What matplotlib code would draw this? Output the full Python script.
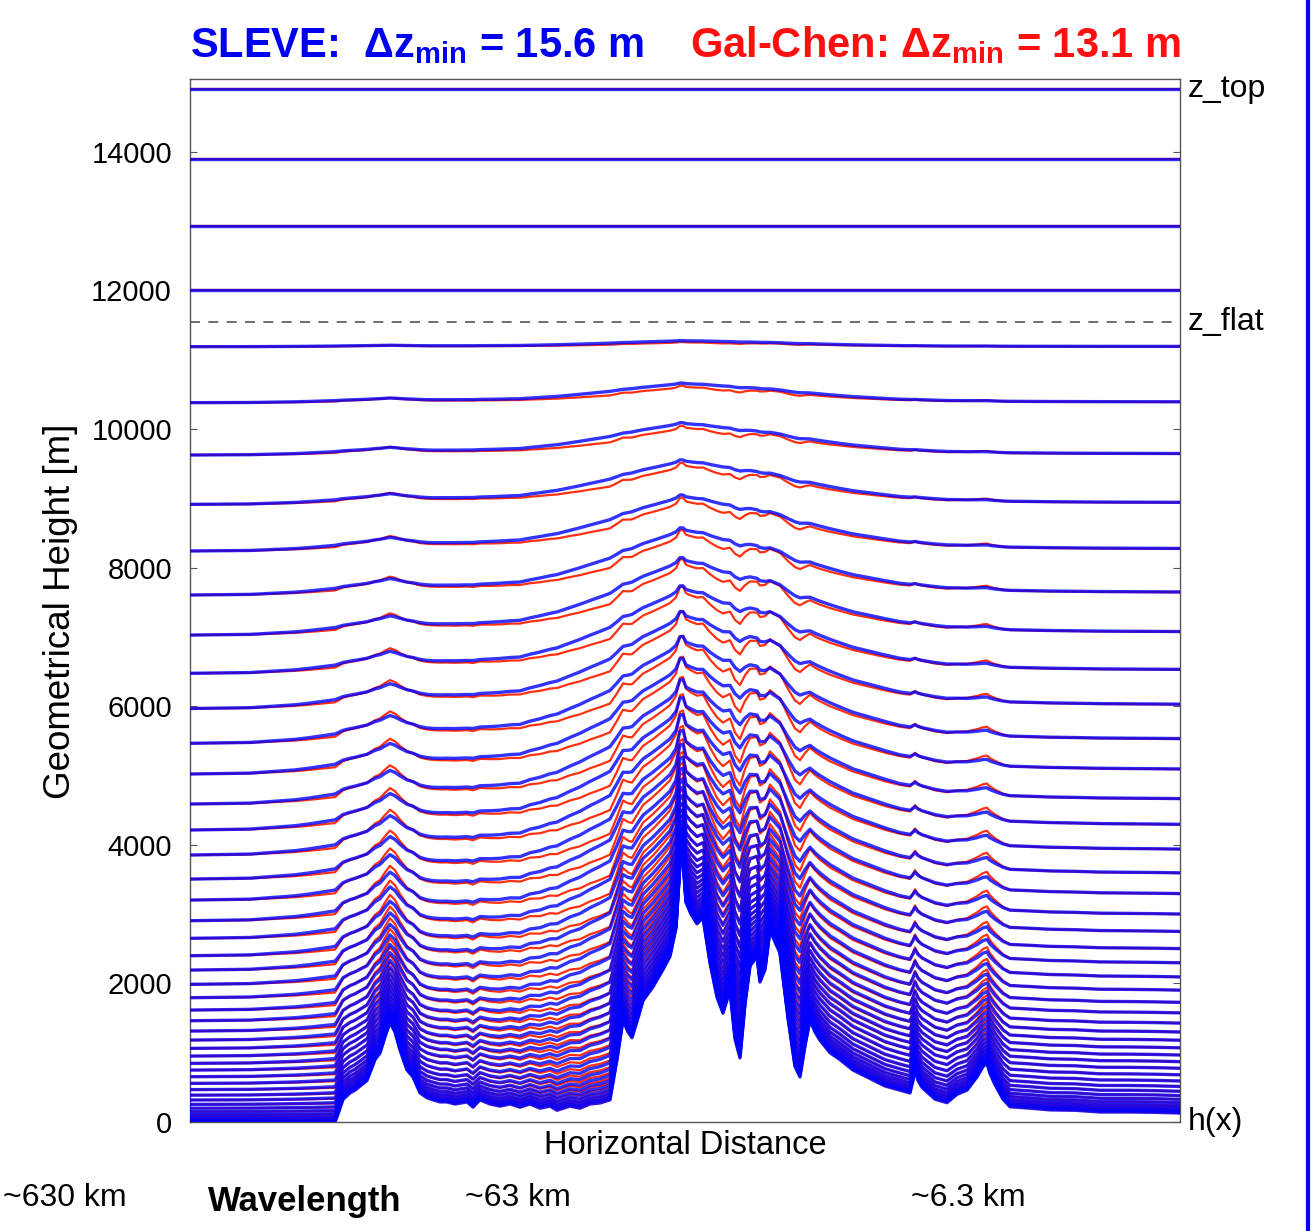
import matplotlib
matplotlib.use("Agg")
import matplotlib.pyplot as plt
import numpy as np
from matplotlib.lines import Line2D

plt.rcParams['font.family'] = ['Liberation Sans', 'DejaVu Sans']
plt.rcParams['mathtext.fontset'] = 'custom'
plt.rcParams['mathtext.rm'] = 'Liberation Sans'
plt.rcParams['mathtext.bf'] = 'Liberation Sans:bold'
plt.rcParams['mathtext.it'] = 'Liberation Sans:italic'

# terrain h(x) (x in grid units, h in m)
x_pts = [0, 15, 30, 45, 60, 75, 90, 105, 120, 135, 145, 147, 153, 160, 165,
         177, 185, 190, 195, 200, 205, 210, 217, 223, 230, 237, 243, 250, 257,
         265, 277, 283, 290, 300, 310, 320, 330, 340, 350, 360, 367, 380, 390,
         400, 410, 420, 427, 433, 438, 442, 448, 453, 463, 473, 480, 486, 490,
         493, 496, 501, 507, 513, 520, 527, 533, 540, 545, 550, 555, 560, 567,
         570, 575, 580, 585, 590, 598, 605, 610, 615, 620, 625, 630, 640, 650,
         663, 677, 695, 710, 720, 723, 725, 728, 732, 745, 757, 767, 777, 787,
         793, 797, 800, 805, 813, 820, 840, 860, 885, 910, 940, 965, 990]
h_pts = [0, 0, 0, 0, 0, 0, 0, 0, 0, 0, 0, 72, 325, 420, 460,
         600, 900, 995, 1230, 1435, 1300, 1040, 750, 650, 420, 350, 320, 290, 290,
         260, 290, 215, 320, 260, 230, 260, 215, 260, 200, 230, 170, 230, 200,
         260, 275, 320, 900, 1470, 1300, 1215, 1500, 1750, 1950, 2200, 2390, 2800, 3730,
         3800, 3170, 3000, 2860, 2950, 2300, 1800, 1570, 1900, 1200, 925, 1700, 2250, 2390,
         2020, 2200, 2770, 2600, 2440, 1500, 800, 650, 1100, 1470, 1300, 1180, 1000, 900,
         750, 650, 520, 460, 420, 600, 750, 600, 500, 330, 280, 400, 460, 650,
         800, 850, 700, 540, 330, 220, 200, 175, 170, 145, 145, 140, 130]

# large-scale part of the terrain, read from the bulge of the upper levels
xl_pts = [0, 60, 110, 150, 200, 240, 280, 330, 370, 410, 450, 490, 530, 570,
          610, 660, 710, 760, 810, 870, 930, 990]
hl_pts = [0, 30, 150, 350, 580, 430, 450, 600, 1000, 1600, 2200, 2700, 2500,
          2000, 1500, 900, 500, 300, 200, 160, 140, 130]

# model levels over flat ground [m]
zeta_levels = [0, 20, 44, 74, 110, 152, 200, 255, 318, 388, 468, 558, 654, 750,
               847, 952, 1063, 1183, 1313, 1462, 1616, 1794, 1987, 2193, 2400,
               2651, 2905, 3203, 3506, 3853, 4214, 4589, 5022, 5465, 5967, 6475,
               7027, 7605, 8240, 8913, 9625, 10380, 11188, 12006, 12929, 13896,
               14906]

yticks = [0, 2000, 4000, 6000, 8000, 10000, 12000, 14000]
z_flat = 11550.0
z_top = 15050.0

x = np.array(x_pts, float)
h = np.array(h_pts, float)
h1 = np.interp(x, xl_pts, hl_pts)
h2 = h - h1


def decay(zeta, s):
    d = max(z_flat - zeta, 0.0)
    return np.sinh(d / s) / np.sinh(z_flat / s)


def gal_chen(zeta):
    lin = max(z_flat - zeta, 0.0) / z_flat
    return zeta + h1 * lin ** 1.1 + h2 * decay(zeta, 3500.0)


def sleve(zeta):
    lin = max(z_flat - zeta, 0.0) / z_flat
    return zeta + h1 * lin + h2 * decay(zeta, 2500.0)


fig = plt.figure(figsize=(13.13, 12.31), dpi=100)
ax = fig.add_axes([0.1447, 0.0885, 0.754, 0.8473])

for zeta in zeta_levels:
    ax.plot(x, gal_chen(zeta), color='#ff3010', lw=1.6, zorder=2)
for zeta in zeta_levels:
    ax.plot(x, sleve(zeta), color='#0000ff', lw=2.4, alpha=0.8, zorder=3)

ax.axhline(z_flat, color='#555555', lw=1.2, ls=(0, (6, 5)), zorder=1)

ax.set_xlim(0, 990)
ax.set_ylim(0, z_top)
ax.set_yticks(yticks)
ax.set_xticks([])
ax.tick_params(axis='y', direction='in', length=5, width=0.8, color='#555555',
               labelsize=21, right=True, pad=13)
for sp in ax.spines.values():
    sp.set_color('#555555')
    sp.set_linewidth(1.0)
ax.set_ylabel('Geometrical Height [m]', fontsize=26.5)
ax.yaxis.set_label_coords(-0.113, 0.49)
ax.set_xlabel('Horizontal Distance', fontsize=23.5, labelpad=6)

# labels on the right side
ax.text(1.008, zeta_levels[-1], 'z_top', transform=ax.get_yaxis_transform(),
        fontsize=23, va='center', ha='left')
ax.text(1.008, z_flat, 'z_flat', transform=ax.get_yaxis_transform(),
        fontsize=23, va='center', ha='left')
ax.text(1.008, 0, 'h(x)', transform=ax.get_yaxis_transform(),
        fontsize=23, va='center', ha='left')

# title in two colours
fig.text(190 / 1313, 1 - 57 / 1231, r'SLEVE:  $\mathbf{\Delta z}_{\mathbf{min}}$ = 15.6 m',
         color='#0000ee', fontsize=30, fontweight='bold', ha='left', va='baseline')
fig.text(690 / 1313, 1 - 57 / 1231, r'Gal-Chen: $\mathbf{\Delta z}_{\mathbf{min}}$ = 13.1 m',
         color='#ff1010', fontsize=30, fontweight='bold', ha='left', va='baseline')

# wavelength annotations
yb = 1 - 1198 / 1231
fig.text(65 / 1313, yb, '~630 km', fontsize=23, ha='center', va='center')
fig.text(305 / 1313, yb - 0.003, 'Wavelength', fontsize=25, fontweight='bold',
         ha='center', va='center')
fig.text(518 / 1313, yb, '~63 km', fontsize=23, ha='center', va='center')
fig.text(968 / 1313, yb, '~6.3 km', fontsize=23, ha='center', va='center')

# blue frame edge on the right
fig.add_artist(Line2D([1307.5 / 1313] * 2, [0, 1], color='#0000ff', lw=3,
                      transform=fig.transFigure))

fig.savefig('out.png', dpi=100)
